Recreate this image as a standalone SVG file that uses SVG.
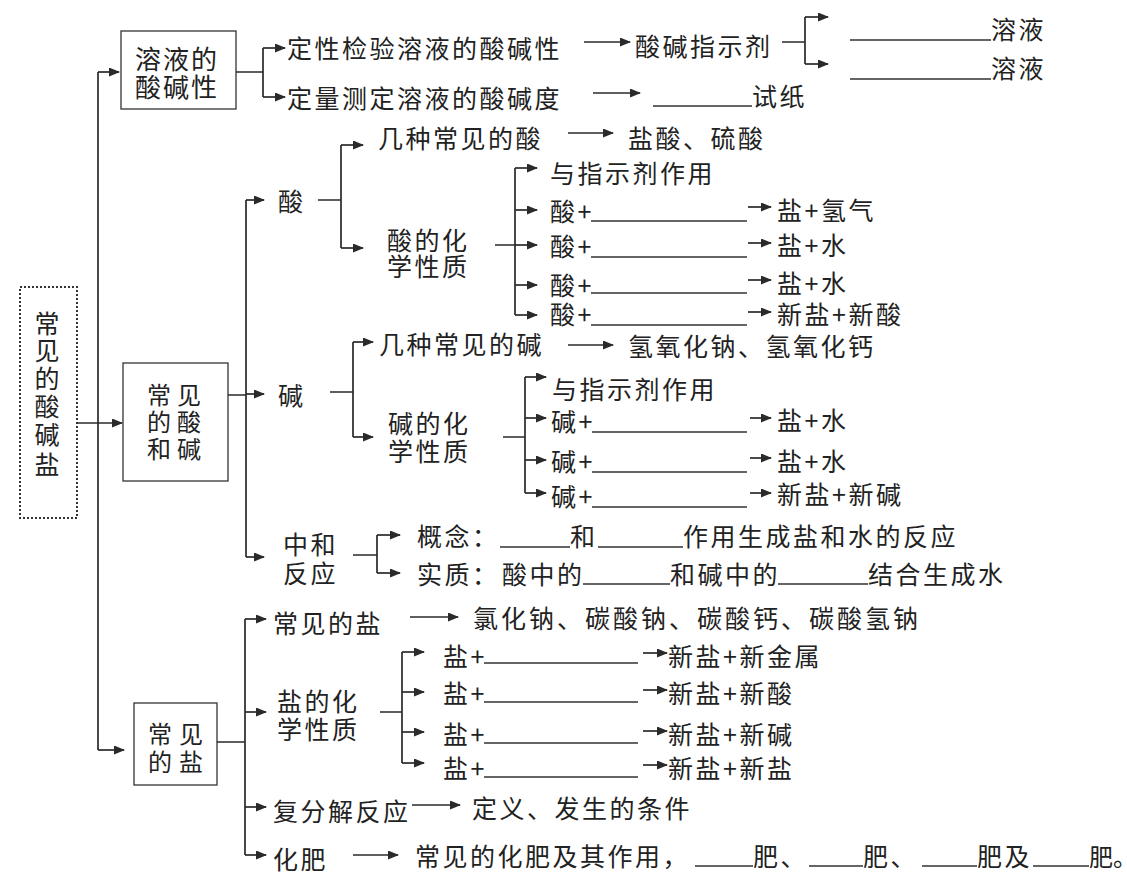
<svg xmlns="http://www.w3.org/2000/svg" width="1127" height="885" viewBox="0 0 1127 885">
<style>
text{font-family:"Noto Sans CJK SC","Noto Sans",sans-serif;font-size:25px;fill:#222;dominant-baseline:central;letter-spacing:2.5px}
.box{fill:none;stroke:#333;stroke-width:1.3}
.root{fill:none;stroke:#333;stroke-width:2;stroke-dasharray:2 2}
.c{fill:none;stroke:#2a2a2a;stroke-width:1.7}
.a{fill:none;stroke:#2a2a2a;stroke-width:1.7;marker-end:url(#ah)}
.b{fill:none;stroke:#333;stroke-width:1.3}
.v{letter-spacing:0}
</style>
<defs>
<marker id="ah" markerUnits="userSpaceOnUse" markerWidth="11" markerHeight="9" refX="10" refY="4.5" orient="auto">
<path d="M0,0 L11,4.5 L0,9 z" fill="#2a2a2a"/>
</marker>
</defs>
<rect width="1127" height="885" fill="#fff"/>

<g id="root">
<rect class="root" x="20" y="287" width="57" height="231"/>
<text class="v" x="47" y="322" text-anchor="middle">常</text>
<text class="v" x="47" y="349" text-anchor="middle">见</text>
<text class="v" x="47" y="377" text-anchor="middle">的</text>
<text class="v" x="47" y="405" text-anchor="middle">酸</text>
<text class="v" x="47" y="433" text-anchor="middle">碱</text>
<text class="v" x="47" y="463" text-anchor="middle">盐</text>
</g>

<g id="box1">
<rect class="box" x="121" y="31" width="115" height="78"/>
<text x="135" y="57" style="font-size:26px;letter-spacing:2px">溶液的</text>
<text x="135" y="85" style="font-size:26px;letter-spacing:2px">酸碱性</text>
</g>
<g id="box2">
<rect class="box" x="123" y="363" width="105" height="118"/>
<text x="147" y="393" style="font-size:24px;letter-spacing:6px">常见</text>
<text x="147" y="420" style="font-size:24px;letter-spacing:6px">的酸</text>
<text x="147" y="447" style="font-size:24px;letter-spacing:6px">和碱</text>
</g>
<g id="box3">
<rect class="box" x="134" y="703" width="83" height="82"/>
<text x="148" y="732" style="font-size:24px;letter-spacing:7px">常见</text>
<text x="148" y="760" style="font-size:24px;letter-spacing:7px">的盐</text>
</g>

<g id="n-dingxing"><text x="287" y="47">定性检验溶液的酸碱性</text></g>
<g id="n-dingliang"><text x="287" y="97">定量测定溶液的酸碱度</text></g>
<g id="n-zhishiji"><text x="635" y="45">酸碱指示剂</text></g>
<g id="n-rongye1"><text x="991" y="28">溶液</text></g>
<g id="n-rongye2"><text x="991" y="67">溶液</text></g>
<g id="n-shizhi"><text x="752" y="95">试纸</text></g>

<g id="n-suan"><text x="278" y="200">酸</text></g>
<g id="n-suan-common"><text x="378" y="137">几种常见的酸</text></g>
<g id="n-suan-list"><text x="628" y="137">盐酸、硫酸</text></g>
<g id="n-suan-chem"><text x="387" y="239">酸的化</text><text x="387" y="265">学性质</text></g>
<g id="n-suan-r0"><text x="550" y="172">与指示剂作用</text></g>
<g id="n-suan-r1"><text x="550" y="210">酸+</text><text x="777" y="209">盐+氢气</text></g>
<g id="n-suan-r2"><text x="550" y="245">酸+</text><text x="777" y="244">盐+水</text></g>
<g id="n-suan-r3"><text x="550" y="284">酸+</text><text x="777" y="282">盐+水</text></g>
<g id="n-suan-r4"><text x="550" y="313">酸+</text><text x="777" y="313">新盐+新酸</text></g>

<g id="n-jian"><text x="278" y="394">碱</text></g>
<g id="n-jian-common"><text x="379" y="343">几种常见的碱</text></g>
<g id="n-jian-list"><text x="628" y="345">氢氧化钠、氢氧化钙</text></g>
<g id="n-jian-chem"><text x="388" y="422">碱的化</text><text x="388" y="450">学性质</text></g>
<g id="n-jian-r0"><text x="552" y="388">与指示剂作用</text></g>
<g id="n-jian-r1"><text x="551" y="420">碱+</text><text x="777" y="419">盐+水</text></g>
<g id="n-jian-r2"><text x="551" y="460">碱+</text><text x="777" y="460">盐+水</text></g>
<g id="n-jian-r3"><text x="551" y="495">碱+</text><text x="777" y="493">新盐+新碱</text></g>

<g id="n-zhonghe"><text x="283" y="543">中和</text><text x="283" y="572">反应</text></g>
<g id="n-gainian"><text x="417" y="535">概念：</text><text x="570" y="535">和</text><text x="683" y="535">作用生成盐和水的反应</text></g>
<g id="n-shizhi2"><text x="417" y="573">实质：</text><text x="502" y="573">酸中的</text><text x="670" y="573">和碱中的</text><text x="868" y="573">结合生成水</text></g>

<g id="n-yan-common"><text x="273" y="622">常见的盐</text></g>
<g id="n-yan-list"><text x="473" y="617" style="letter-spacing:3px">氯化钠、碳酸钠、碳酸钙、碳酸氢钠</text></g>
<g id="n-yan-chem"><text x="277" y="700">盐的化</text><text x="277" y="728">学性质</text></g>
<g id="n-yan-r1"><text x="443" y="655">盐+</text><text x="668" y="655">新盐+新金属</text></g>
<g id="n-yan-r2"><text x="443" y="692">盐+</text><text x="668" y="692">新盐+新酸</text></g>
<g id="n-yan-r3"><text x="443" y="733">盐+</text><text x="668" y="733">新盐+新碱</text></g>
<g id="n-yan-r4"><text x="443" y="767">盐+</text><text x="668" y="767">新盐+新盐</text></g>
<g id="n-fufenjie"><text x="273" y="810">复分解反应</text></g>
<g id="n-dingyi"><text x="472" y="807">定义、发生的条件</text></g>
<g id="n-huafei"><text x="273" y="858">化肥</text></g>
<g id="n-huafei-desc"><text x="415" y="855">常见的化肥及其作用，</text><text x="753" y="855">肥、</text><text x="863" y="855">肥、</text><text x="977" y="855">肥及</text><text x="1089" y="855" style="font-size:24px;letter-spacing:0">肥。</text></g>

<g id="blanks">
<path class="b" d="M850,40H991M850,79H991M653,106H752"/>
<path class="b" d="M591,221H747M591,257H747M591,293H747M591,325H747"/>
<path class="b" d="M592,432H747M592,472H747M592,507H747"/>
<path class="b" d="M500,547H570M598,547H683M583,584H670M778,584H868"/>
<path class="b" d="M484,663H638M484,702H638M484,743H638M484,777H638"/>
<path class="b" d="M695,866H753M809,866H863M922,866H977M1033,866H1089"/>
</g>

<g id="connectors">
<path class="c" d="M98,72V750"/>
<path class="a" d="M98,72H119"/>
<path class="a" d="M77,423H122"/>
<path class="a" d="M98,750H124"/>
<path class="c" d="M236,72H263M263,48V97"/>
<path class="a" d="M263,48H285"/>
<path class="a" d="M263,97H285"/>
<path class="a" d="M584,42H630"/>
<path class="c" d="M782,42H805M805,17V64"/>
<path class="a" d="M805,17H828"/>
<path class="a" d="M805,64H828"/>
<path class="a" d="M593,93H640"/>

<path class="c" d="M228,395H246M246,200V557"/>
<path class="a" d="M246,200H264"/>
<path class="a" d="M246,394H264"/>
<path class="a" d="M246,557H264"/>

<path class="c" d="M318,200H341M341,145V248"/>
<path class="a" d="M341,145H363"/>
<path class="a" d="M341,248H363"/>
<path class="a" d="M568,133H613"/>
<path class="c" d="M495,245H515M515,168V315"/>
<path class="a" d="M515,168H537"/>
<path class="a" d="M515,210H537"/>
<path class="a" d="M515,245H537"/>
<path class="a" d="M515,285H537"/>
<path class="a" d="M515,315H537"/>
<path class="a" d="M748,207H771"/>
<path class="a" d="M748,243H771"/>
<path class="a" d="M748,280H771"/>
<path class="a" d="M748,312H771"/>

<path class="c" d="M330,392H353M353,342V437"/>
<path class="a" d="M353,342H373"/>
<path class="a" d="M353,437H373"/>
<path class="a" d="M568,345H613"/>
<path class="c" d="M503,437H525M525,377V493"/>
<path class="a" d="M525,377H546"/>
<path class="a" d="M525,418H546"/>
<path class="a" d="M525,460H546"/>
<path class="a" d="M525,493H546"/>
<path class="a" d="M750,418H771"/>
<path class="a" d="M750,458H771"/>
<path class="a" d="M750,493H771"/>

<path class="c" d="M353,555H377M377,535V573"/>
<path class="a" d="M377,535H400"/>
<path class="a" d="M377,573H400"/>

<path class="c" d="M217,742H245M245,619V855"/>
<path class="a" d="M245,619H266"/>
<path class="a" d="M245,712H266"/>
<path class="a" d="M245,807H266"/>
<path class="a" d="M245,855H266"/>
<path class="a" d="M410,617H458"/>
<path class="c" d="M380,712H402M402,652V763"/>
<path class="a" d="M402,652H424"/>
<path class="a" d="M402,692H424"/>
<path class="a" d="M402,732H424"/>
<path class="a" d="M402,763H424"/>
<path class="a" d="M643,653H667"/>
<path class="a" d="M643,690H667"/>
<path class="a" d="M643,731H667"/>
<path class="a" d="M643,765H667"/>
<path class="a" d="M412,805H460"/>
<path class="a" d="M353,855H398"/>
</g>
</svg>
